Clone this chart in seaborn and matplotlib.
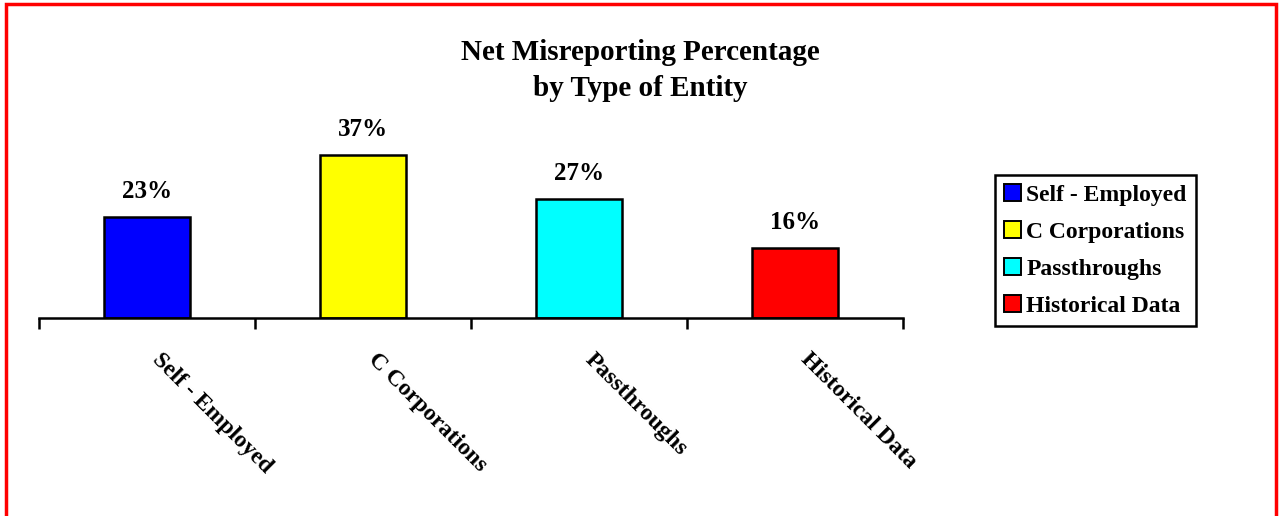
import matplotlib
matplotlib.use("Agg")
import matplotlib.pyplot as plt
from matplotlib.patches import Rectangle
from matplotlib.transforms import ScaledTranslation
import seaborn as sns
import pandas as pd

categories = ["Self - Employed", "C Corporations", "Passthroughs", "Historical Data"]
values = [23, 37, 27, 16]
colors = ["#0000FF", "#FFFF00", "#00FFFF", "#FF0000"]
title = "Net Misreporting Percentage\nby Type of Entity"

sns.set_theme(style="white")
plt.rcParams["font.family"] = ["Liberation Serif", "DejaVu Serif"]
plt.rcParams["font.weight"] = "bold"
plt.rcParams["text.color"] = "black"
plt.rcParams["xtick.color"] = "black"
plt.rcParams["axes.labelcolor"] = "black"

df = pd.DataFrame({"entity": categories, "pct": values})

fig = plt.figure(figsize=(12.81, 5.16), dpi=100)
W, H = 1281, 516
ax = fig.add_axes([39 / W, 1 - 318 / H, 864 / W, 200 / H])

sns.barplot(data=df, x="entity", y="pct", hue="entity", palette=colors,
            order=categories, hue_order=categories, width=0.4, dodge=False,
            saturation=1, edgecolor="black", linewidth=1.8, legend=True, ax=ax)

ax.set_xlim(-0.5, 3.5)
ax.set_ylim(0, 200 / 4.4)

for cont, v in zip(ax.containers, values):
    ax.bar_label(cont, labels=[f"{v}%"], padding=10, fontsize=18,
                 fontweight="bold", color="black")

for s in ["top", "left", "right"]:
    ax.spines[s].set_visible(False)
ax.spines["bottom"].set_color("black")
ax.spines["bottom"].set_linewidth(1.8)
ax.set_yticks([])
ax.set_xlabel("")
ax.set_ylabel("")

# category boundaries as tick marks, labels at bar centers
ax.set_xticks([-0.5, 0.5, 1.5, 2.5, 3.5], minor=True)
ax.tick_params(axis="x", which="minor", bottom=True, length=8, width=1.8,
               color="black", direction="out")
ax.tick_params(axis="x", which="major", bottom=False, length=0, pad=20)
ax.set_xticks(range(len(categories)))
ax.set_xticklabels(categories, rotation=-45, ha="left", va="top",
                   rotation_mode="anchor", fontsize=17, fontweight="bold",
                   color="black")
shift = ScaledTranslation(0.16, -0.03, fig.dpi_scale_trans)
for lbl in ax.get_xticklabels():
    lbl.set_transform(lbl.get_transform() + shift)

leg = ax.legend(loc="upper left", bbox_to_anchor=(995 / W, 1 - 175 / H),
                bbox_transform=fig.transFigure, borderaxespad=0,
                frameon=True, fancybox=False, edgecolor="black",
                framealpha=1, fontsize=17, handlelength=0.68,
                handleheight=0.68, handletextpad=0.25, labelspacing=0.66,
                borderpad=0.4, title=None)
leg.get_frame().set_linewidth(1.8)
leg.get_frame().set_edgecolor("black")
for t in leg.get_texts():
    t.set_fontweight("bold")
    t.set_color("black")
for h in leg.legend_handles:
    h.set_edgecolor("black")
    h.set_linewidth(1.4)

fig.suptitle(title, x=0.5, y=1 - 39 / H, fontsize=21, fontweight="bold",
             va="top", linespacing=1.45, color="black")

fig.patches.append(Rectangle((6 / W, -0.1), 1270 / W, 1.1 - 4 / H,
                             transform=fig.transFigure, fill=False,
                             edgecolor="#FF0000", linewidth=2.5))

fig.savefig("out.png", dpi=100, facecolor="white")
